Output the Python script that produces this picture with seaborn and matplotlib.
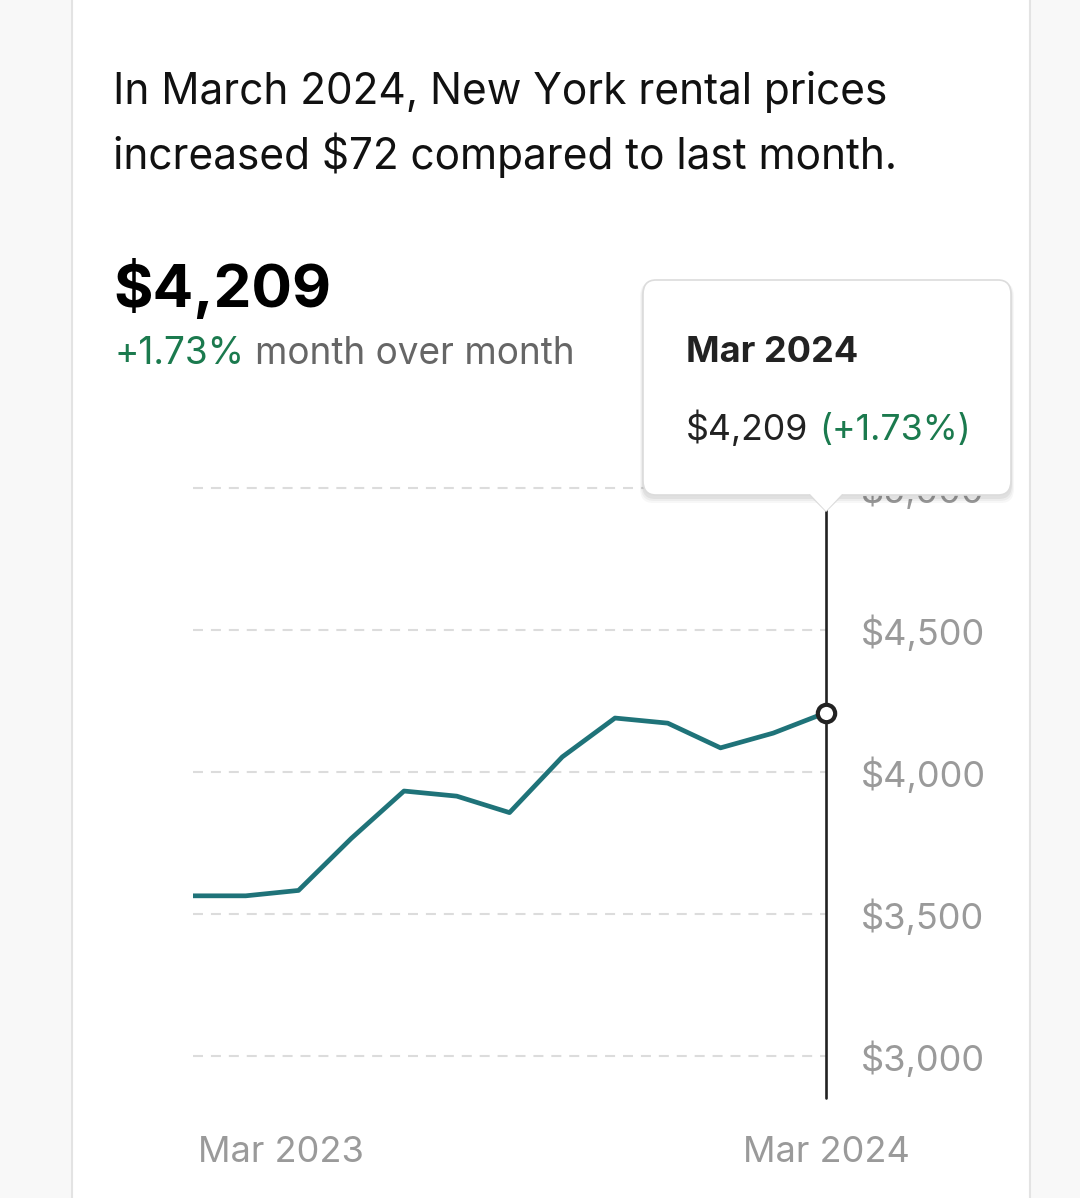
import matplotlib
matplotlib.use("Agg")
import matplotlib.pyplot as plt
import matplotlib.transforms as mtransforms
import seaborn as sns
import pandas as pd
from matplotlib.patches import FancyBboxPatch, Rectangle, Polygon
from matplotlib.lines import Line2D
from matplotlib.ticker import FuncFormatter

# dados (aluguel medio, Nova York)
meses = ["Mar 2023", "Apr 2023", "May 2023", "Jun 2023", "Jul 2023", "Aug 2023",
         "Sep 2023", "Oct 2023", "Nov 2023", "Dec 2023", "Jan 2024", "Feb 2024", "Mar 2024"]
precos = [3564, 3564, 3583, 3766, 3933, 3915, 3857, 4053, 4190, 4172, 4085, 4137, 4209]
marcas_y = [3000, 3500, 4000, 4500, 5000]
rotulos_x = ["Mar 2023", "Mar 2024"]

titulo = ["In March 2024, New York rental prices", "increased $72 compared to last month."]
valor_atual = "$4,209"
variacao = "+1.73%"

W, H = 1080, 1198
VERDE = "#1b7a4e"
CINZA = "#9a9a9a"
TEAL = "#1f7379"

sns.set_theme(style="white")
plt.rcParams["font.family"] = ["Inter", "DejaVu Sans"]

fig = plt.figure(figsize=(W / 100, H / 100), dpi=100)
fig.patch.set_facecolor("#f8f8f8")


def fx(x):
    return x / W


def fy(y):
    return 1 - y / H


# cartao branco
fig.patches.append(Rectangle((fx(72), -0.01), fx(1030) - fx(72), 1.02, transform=fig.transFigure,
                             facecolor="white", edgecolor="#e3e3e3", linewidth=1.5, zorder=-5))

df = pd.DataFrame({"mes": meses, "x": range(len(meses)), "preco": precos})

ax = fig.add_axes([fx(193), fy(1098), fx(826) - fx(193), (1098 - 470) / H])
ax.set_facecolor("none")
sns.lineplot(data=df, x="x", y="preco", ax=ax, color=TEAL, linewidth=3.4, zorder=3)

ax.set_xlim(0, len(meses) - 1)
ax.set_ylim(3000 - 42 / 142 * 500, 5000 + 18 / 142 * 500)
ax.set_yticks(marcas_y)
ax.yaxis.tick_right()
ax.yaxis.set_major_formatter(FuncFormatter(lambda v, p: f"${v:,.0f}"))
ax.tick_params(axis="y", length=0, pad=25, labelsize=26, labelcolor=CINZA)
ax.set_xticks([0, len(meses) - 1])
ax.set_xticklabels(rotulos_x)
ax.tick_params(axis="x", length=0, pad=27, labelsize=26, labelcolor=CINZA)
lbls = ax.get_xticklabels()
lbls[0].set_horizontalalignment("left")
lbls[0].set_transform(lbls[0].get_transform() + mtransforms.ScaledTranslation(5 / 100, 0, fig.dpi_scale_trans))
ax.set_xlabel("")
ax.set_ylabel("")
for s in ax.spines.values():
    s.set_visible(False)
ax.grid(axis="y", color="#dcdcdc", linestyle=(0, (4.8, 3.8)), linewidth=1.5)
ax.grid(axis="x", visible=False)

# linha vertical do cursor e ponto final
ax.axvline(len(meses) - 1, color="#222222", linewidth=1.9, zorder=4, clip_on=False)
ax.plot([len(meses) - 1], [precos[-1]], marker="o", markersize=12.5, markerfacecolor="white",
        markeredgecolor="#222222", markeredgewidth=3, zorder=5, clip_on=False)

# textos do topo
fig.text(fx(113), fy(104), titulo[0], fontsize=30.5, color="#111111", va="baseline")
fig.text(fx(113), fy(169), titulo[1], fontsize=30.5, color="#111111", va="baseline")
fig.text(fx(113), fy(307), valor_atual, fontsize=43.4, fontweight="bold", color="#000000", va="baseline")

r = fig.canvas.get_renderer()
t1 = fig.text(fx(115), fy(364), variacao, fontsize=26.6, color=VERDE, va="baseline")
bb = t1.get_window_extent(r)
fig.text(bb.x1 / W + fx(10), fy(364), "month over month", fontsize=26.6, color="#666666", va="baseline")

# tooltip
for i, a in enumerate([0.05, 0.04, 0.03]):
    d = (i + 1) * 2
    fig.patches.append(FancyBboxPatch((fx(643 - d / 2), fy(495 + d + 2)), fx(368 + d), (215 + d) / H,
                                      boxstyle="round,pad=0,rounding_size=0.012", transform=fig.transFigure,
                                      facecolor="black", edgecolor="none", alpha=a, zorder=8))
fig.patches.append(FancyBboxPatch((fx(643), fy(495)), fx(368), 215 / H,
                                  boxstyle="round,pad=0,rounding_size=0.012", transform=fig.transFigure,
                                  facecolor="white", edgecolor="#dcdcdc", linewidth=1.2, zorder=9))
fig.patches.append(Polygon([(fx(810), fy(494)), (fx(826), fy(511)), (fx(842), fy(494))],
                           closed=True, transform=fig.transFigure, facecolor="white",
                           edgecolor="none", zorder=10))
fig.lines.append(Line2D([fx(810), fx(826), fx(842)], [fy(495), fy(511), fy(495)],
                        transform=fig.transFigure, color="#dcdcdc", linewidth=1.2, zorder=10))

fig.text(fx(686), fy(362), meses[-1], fontsize=26, fontweight="bold", color="#222222", va="baseline", zorder=11)
t2 = fig.text(fx(686), fy(440), valor_atual, fontsize=25.7, color="#222222", va="baseline", zorder=11)
bb = t2.get_window_extent(r)
fig.text(bb.x1 / W + fx(11), fy(440), f"({variacao})", fontsize=25.7, color=VERDE, va="baseline", zorder=11)

fig.savefig("out.png", dpi=100)
